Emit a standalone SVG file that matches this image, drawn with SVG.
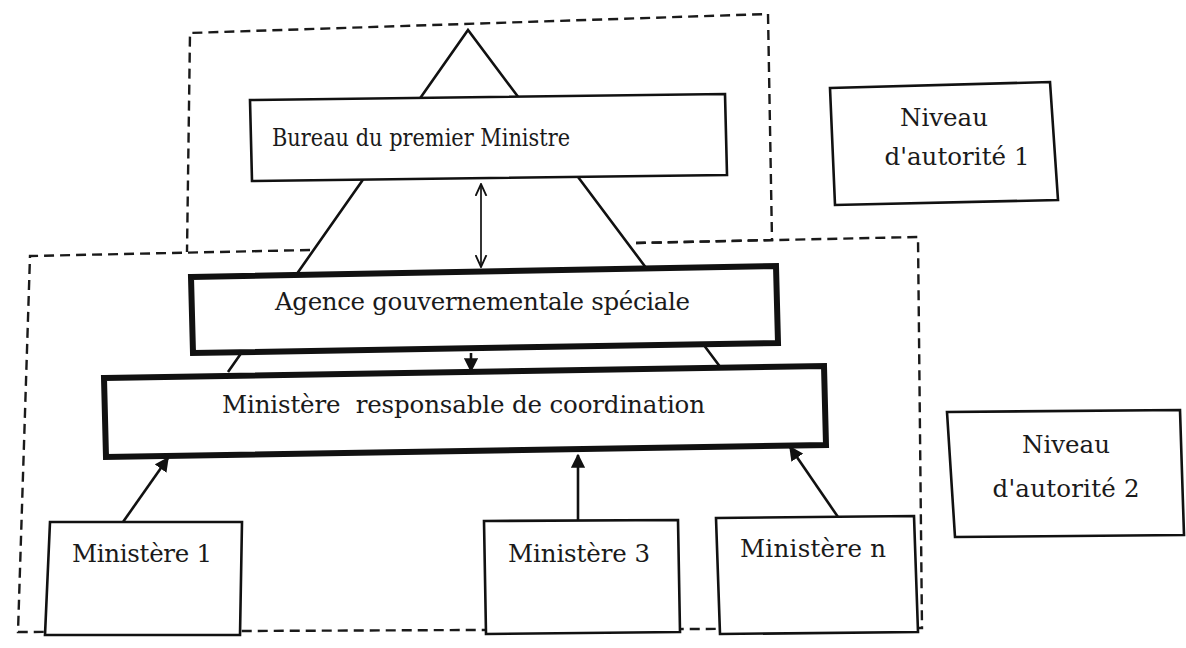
<svg xmlns="http://www.w3.org/2000/svg" width="1186" height="648" viewBox="0 0 1186 648">
  <style>
    .bg { fill: #ffffff; }
    .dash { fill: none; stroke: #1a1a1a; stroke-width: 2.4; stroke-dasharray: 10 6; }
    .tri { fill: none; stroke: #111; stroke-width: 2.6; }
    .box { fill: #ffffff; stroke: #111; stroke-width: 2.6; }
    .thick { fill: #ffffff; stroke: #111; stroke-width: 6; }
    .conn { fill: none; stroke: #111; stroke-width: 2.6; }
    .thin { fill: none; stroke: #111; stroke-width: 1.7; }
    text { font-family: "DejaVu Serif", "Liberation Serif", serif; font-size: 24.5px; fill: #1a1a1a; }
  </style>
  <defs>
    <marker id="fill" viewBox="0 0 10 10" refX="9" refY="5" markerWidth="5.5" markerHeight="5.5" orient="auto" markerUnits="strokeWidth">
      <path d="M0,0 L10,5 L0,10 z" fill="#111"/>
    </marker>
    <marker id="open" viewBox="0 0 12 12" refX="11" refY="6" markerWidth="13" markerHeight="13" orient="auto-start-reverse" markerUnits="userSpaceOnUse">
      <path d="M0,1 L11,6 L0,11" fill="none" stroke="#111" stroke-width="1.7"/>
    </marker>
  </defs>
  <rect class="bg" x="0" y="0" width="1186" height="648"/>

  <g id="zones">
    <path class="dash" d="M636,243 L772,240 L768,14 L190,33 L187,252"/>
    <path class="dash" d="M310,250 L30,256 L18,632 L922,628 L918,237 L636,243"/>
  </g>

  <g id="pyramid">
    <path class="tri" d="M228,372 L468,30 L724,372"/>
  </g>

  <g id="connectors">
    <line class="thin" x1="481" y1="184" x2="481" y2="267" marker-start="url(#open)" marker-end="url(#open)"/>
    <line class="conn" x1="471" y1="353" x2="471" y2="371" marker-end="url(#fill)"/>
    <line class="conn" x1="123" y1="522" x2="168" y2="458" marker-end="url(#fill)"/>
    <line class="conn" x1="578" y1="520" x2="578" y2="455" marker-end="url(#fill)"/>
    <line class="conn" x1="838" y1="517" x2="790" y2="447" marker-end="url(#fill)"/>
  </g>

  <g id="bureau">
    <polygon class="box" points="250,100 725,94 727,175 252,181"/>
    <text x="272" y="146" textLength="298" lengthAdjust="spacingAndGlyphs">Bureau du premier Ministre</text>
  </g>

  <g id="agence">
    <polygon class="thick" points="191,277 776,266 778,343 193,353"/>
    <text x="275" y="310" textLength="415">Agence gouvernementale spéciale</text>
  </g>

  <g id="ministere-coordination">
    <polygon class="thick" points="104,378 824,366 826,445 106,457"/>
    <text x="222" y="413" textLength="483" xml:space="preserve">Ministère  responsable de coordination</text>
  </g>

  <g id="ministere-1">
    <polygon class="box" points="50,522 242,522 240,635 45,635"/>
    <text x="72" y="562" textLength="140">Ministère 1</text>
  </g>

  <g id="ministere-3">
    <polygon class="box" points="484,521 678,520 680,632 486,634"/>
    <text x="508" y="562" textLength="142">Ministère 3</text>
  </g>

  <g id="ministere-n">
    <polygon class="box" points="716,518 914,516 918,632 720,634"/>
    <text x="740" y="557" textLength="146">Ministère n</text>
  </g>

  <g id="niveau-1">
    <polygon class="box" points="830,88 1050,82 1058,200 835,205"/>
    <text x="944" y="126" text-anchor="middle">Niveau</text>
    <text x="957" y="165" text-anchor="middle" textLength="145">d'autorité 1</text>
  </g>

  <g id="niveau-2">
    <polygon class="box" points="947,412 1180,410 1184,535 955,537"/>
    <text x="1066" y="453" text-anchor="middle">Niveau</text>
    <text x="1066" y="497" text-anchor="middle" textLength="147">d'autorité 2</text>
  </g>
</svg>
